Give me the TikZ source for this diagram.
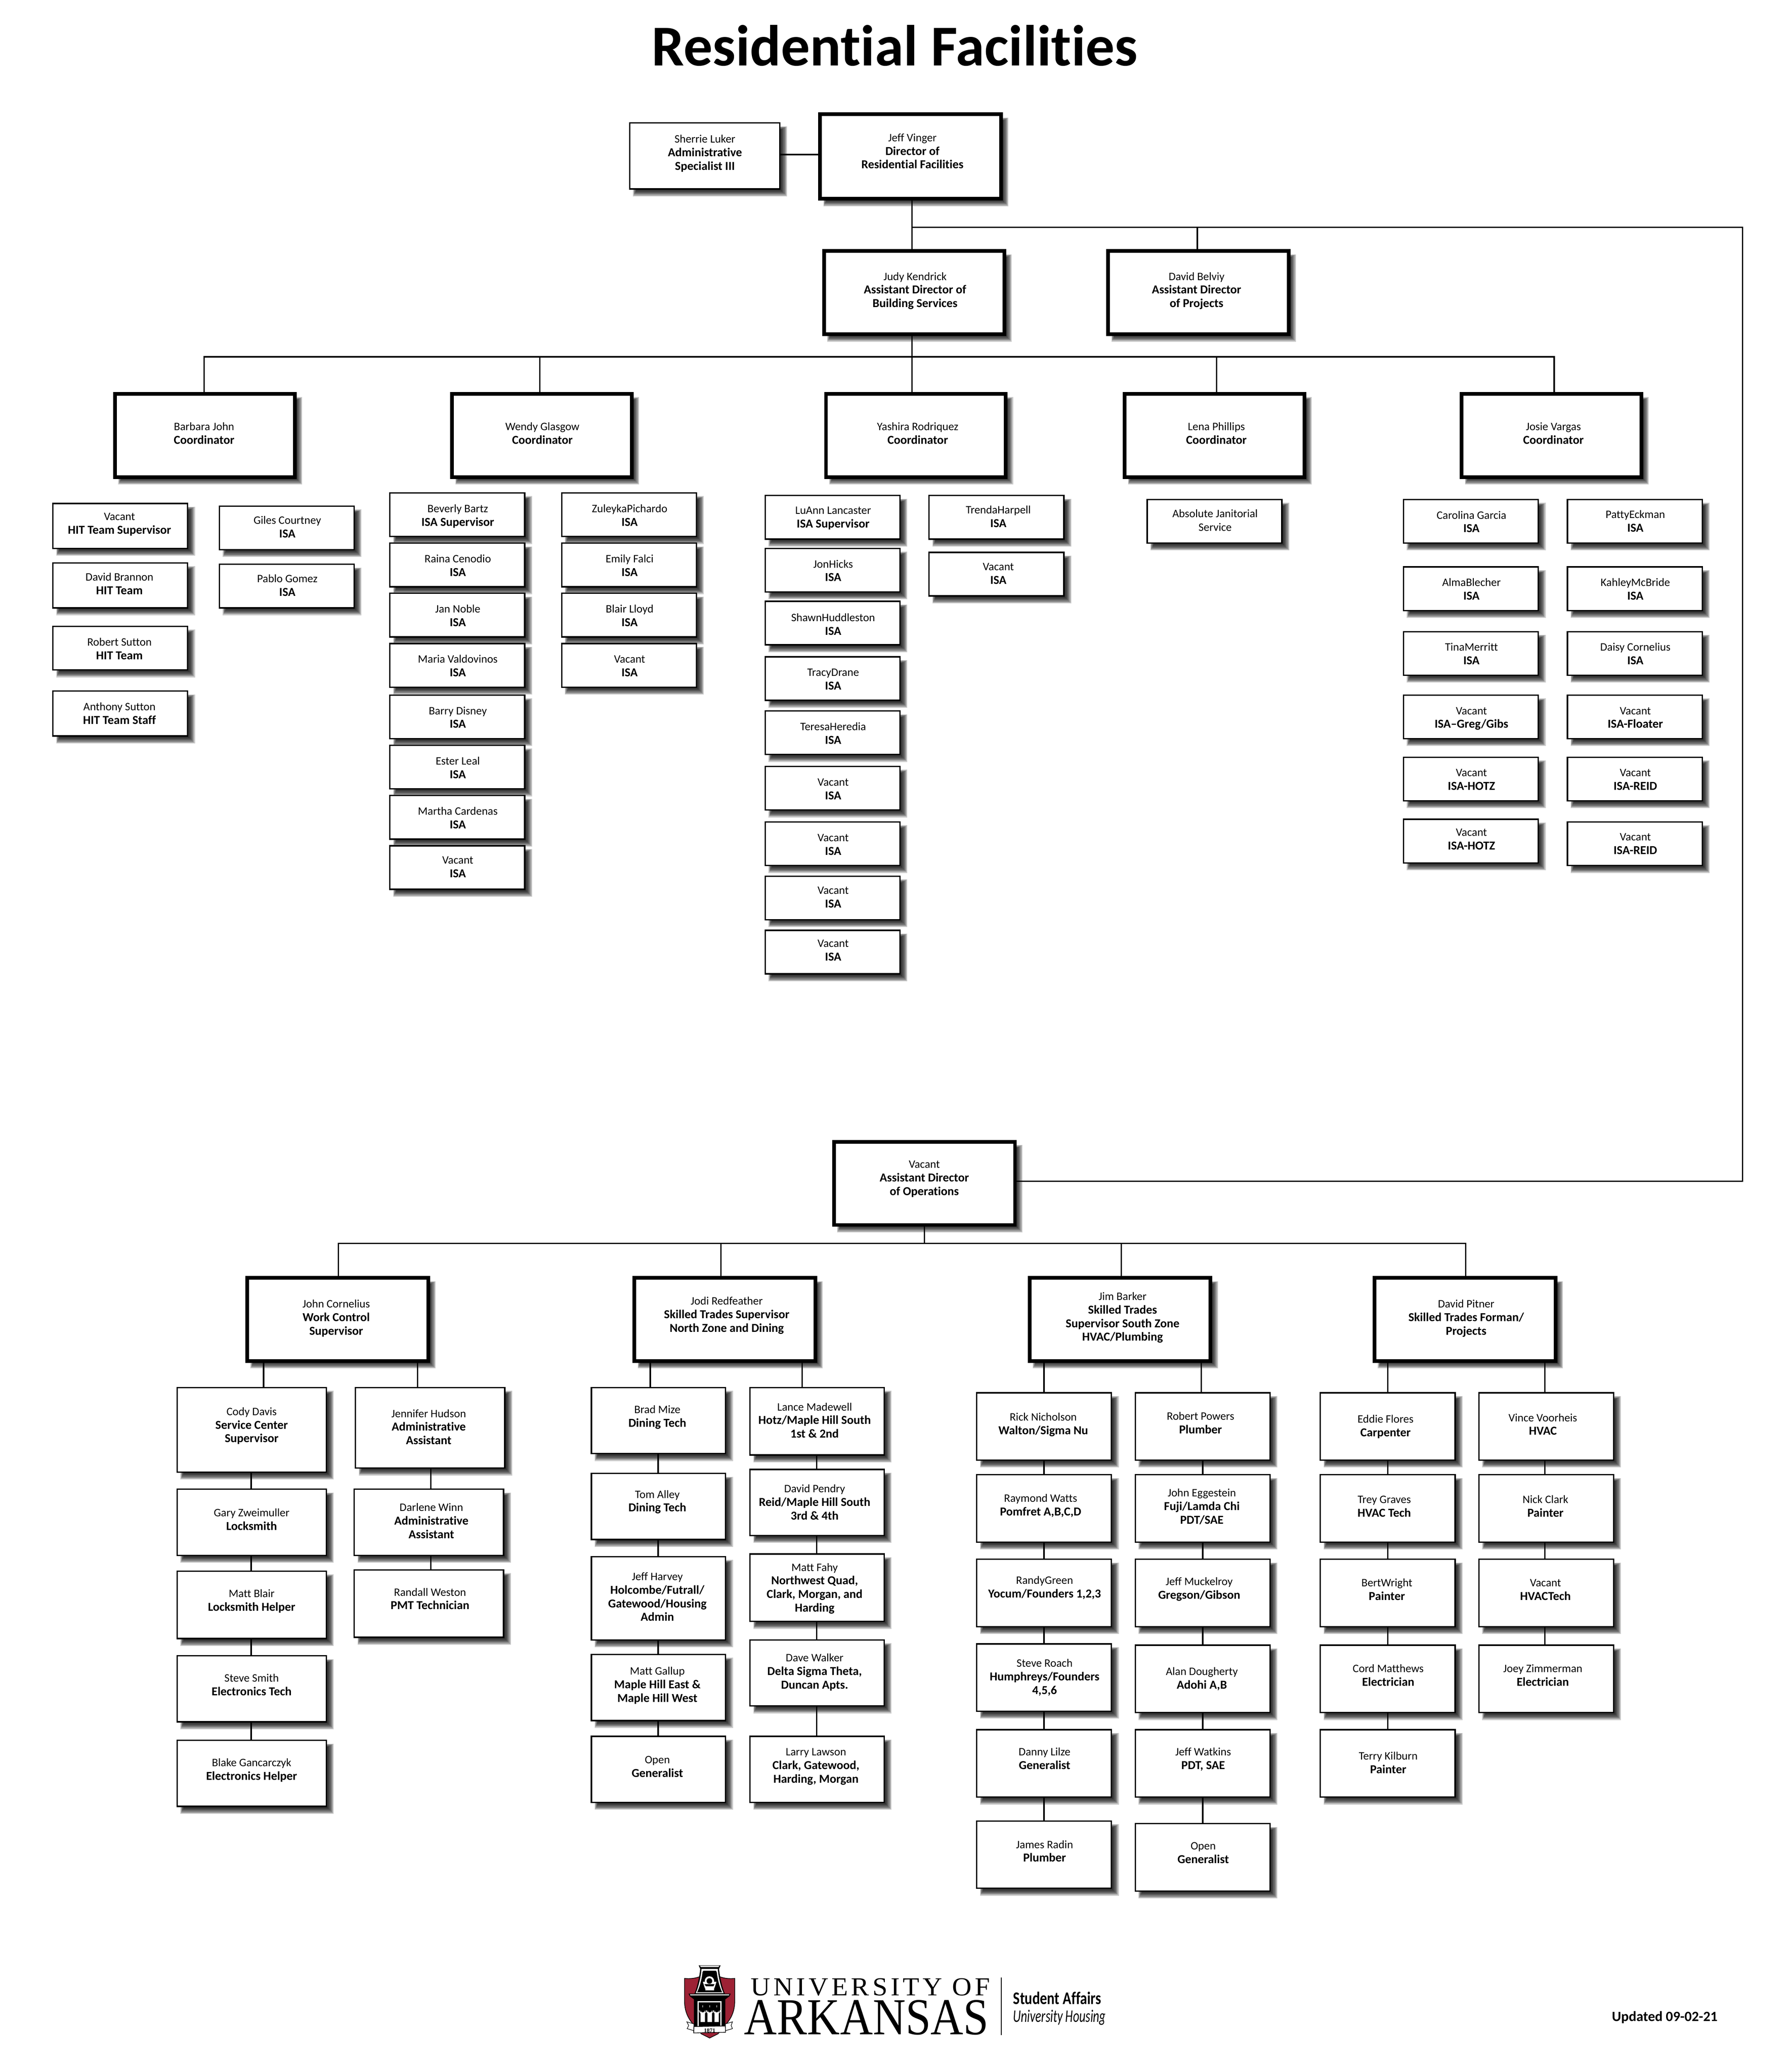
\documentclass[tikz,border=0pt]{standalone}
\usepackage{fontspec}
\setmainfont{Carlito}[Ligatures=NoCommon]
\newfontfamily\serifl{Liberation Serif}
\usetikzlibrary{calc}
\definecolor{uared}{RGB}{157,34,53}
\tikzset{
  x=1pt,y=-1pt,
  thinbox/.style={draw=black,fill=white,line width=1.05pt,rectangle,inner sep=0pt},
  thickbox/.style={draw=black,fill=white,line width=2.8pt,rectangle,inner sep=0pt},
  conn/.style={draw=black,line width=1.05pt},
}
% soft shadow
\newcommand{\softshadow}[4]{%
  \foreach \g in {0,1,2,3,4,5,6}{%
    \fill[black,fill opacity=.2] (#1+2.5+.4*\g,#2+2.5+.4*\g) rectangle (#3+5.6-.7*\g,#4+5.6-.7*\g);
  }}
% \bx{name}{x1}{y1}{x2}{y2}{style}{text cx}{text cy}{lines}
\newcommand{\bx}[9]{%
  \softshadow{#2}{#3}{#4}{#5}%
  \pgfmathsetmacro{\mycx}{(#2+#4)/2}\pgfmathsetmacro{\mycy}{(#3+#5)/2}%
  \pgfmathsetmacro{\myw}{#4-#2}\pgfmathsetmacro{\myh}{#5-#3}%
  \pgfmathsetmacro{\mydx}{2*(#7-\mycx)+.8}\pgfmathsetmacro{\mydy}{\mycy-#8-3.0}%
  \node[#6,minimum width=\myw pt,minimum height=\myh pt] (#1) at (\mycx,\mycy)
   {\smash{\makebox[0pt]{\hspace{\mydx pt}\raisebox{\mydy pt}{\fontsize{8.6}{10.3}\selectfont\begin{tabular}[c]{@{}c@{}}#9\end{tabular}}}}};%
}
\newcommand{\smb}[8]{\bx{#1}{#2}{#3}{#4}{#5}{thinbox}{#6}{#7}{#8}}
\newcommand{\lgb}[8]{\bx{#1}{#2}{#3}{#4}{#5}{thickbox}{#6}{#7}{#8}}
\newcommand{\tb}[1]{{\fontsize{9.2}{10.3}\selectfont\bfseries #1}}
% stem between two named nodes at given x
\newcommand{\stem}[3]{\draw[conn] (#1.south -| #3,0) -- (#2.north -| #3,0);}
\begin{document}
\begin{tikzpicture}
\useasboundingbox (0,0) rectangle (1354.2,1568);
\fill[white] (0,0) rectangle (1354.2,1568);
\node[font=\fontsize{43.8}{43.8}\selectfont\bfseries] (title) at (677,34.5) {Residential Facilities};
% top
\smb{sherrie}{476.5}{93}{590}{143}{533}{115.5}{Sherrie Luker\\\tb{Administrative}\\\tb{Specialist III}}
\lgb{jeff}{620.5}{86.5}{757.5}{150.5}{690}{114.5}{Jeff Vinger\\\tb{Director of}\\\tb{Residential Facilities}}
\lgb{judy}{623.5}{190}{760}{253}{692}{219.5}{Judy Kendrick\\\tb{Assistant Director of}\\\tb{Building Services}}
\lgb{belviy}{838.5}{190}{975}{253}{905}{219.5}{David Belviy\\\tb{Assistant Director}\\\tb{of Projects}}
\lgb{barbara}{87}{298}{223}{361}{154}{328}{Barbara John\\\tb{Coordinator}}
\lgb{wendy}{342}{298}{478}{361}{410}{328}{Wendy Glasgow\\\tb{Coordinator}}
\lgb{yashira}{625}{298}{761}{361}{694}{328}{Yashira Rodriquez\\\tb{Coordinator}}
\lgb{lena}{851}{298}{987}{361}{920}{328}{Lena Phillips\\\tb{Coordinator}}
\lgb{josie}{1106}{298}{1242}{361}{1175}{328}{Josie Vargas\\\tb{Coordinator}}
% Barbara
\smb{b1}{40}{381}{142}{415}{90}{396}{Vacant\\\tb{HIT Team Supervisor}}
\smb{b2}{40}{426}{142}{460}{90}{442}{David Brannon\\\tb{HIT Team}}
\smb{b3}{40}{474}{142}{507}{90}{491}{Robert Sutton\\\tb{HIT Team}}
\smb{b4}{40}{523}{142}{557}{90}{540}{Anthony Sutton\\\tb{HIT Team Staff}}
\smb{b5}{166}{383}{268}{416}{217}{399}{Giles Courtney\\\tb{ISA}}
\smb{b6}{166}{427}{268}{460}{217}{443}{Pablo Gomez\\\tb{ISA}}
% Wendy
\smb{w1}{295}{373}{397}{406}{346}{390}{Beverly Bartz\\\tb{ISA Supervisor}}
\smb{w2}{295}{411}{397}{444}{346}{428}{Raina Cenodio\\\tb{ISA}}
\smb{w3}{295}{449}{397}{482}{346}{466}{Jan Noble\\\tb{ISA}}
\smb{w4}{295}{487}{397}{520}{346}{504}{Maria Valdovinos\\\tb{ISA}}
\smb{w5}{295}{526}{397}{559}{346}{543}{Barry Disney\\\tb{ISA}}
\smb{w6}{295}{564}{397}{597}{346}{581}{Ester Leal\\\tb{ISA}}
\smb{w7}{295}{602}{397}{635}{346}{619}{Martha Cardenas\\\tb{ISA}}
\smb{w8}{295}{640}{397}{673}{346}{656}{Vacant\\\tb{ISA}}
\smb{w9}{425}{373}{527}{406}{476}{390}{ZuleykaPichardo\\\tb{ISA}}
\smb{w10}{425}{411}{527}{444}{476}{428}{Emily Falci\\\tb{ISA}}
\smb{w11}{425}{449}{527}{482}{476}{466}{Blair Lloyd\\\tb{ISA}}
\smb{w12}{425}{487}{527}{520}{476}{504}{Vacant\\\tb{ISA}}
% Yashira
\smb{y1}{579}{375}{681}{408}{630}{391.5}{LuAnn Lancaster\\\tb{ISA Supervisor}}
\smb{y2}{579}{415}{681}{448}{630}{432}{JonHicks\\\tb{ISA}}
\smb{y3}{579}{455}{681}{488}{630}{472.5}{ShawnHuddleston\\\tb{ISA}}
\smb{y4}{579}{497}{681}{530}{630}{514}{TracyDrane\\\tb{ISA}}
\smb{y5}{579}{538}{681}{571}{630}{555}{TeresaHeredia\\\tb{ISA}}
\smb{y6}{579}{580}{681}{613}{630}{597}{Vacant\\\tb{ISA}}
\smb{y7}{579}{622}{681}{655}{630}{639}{Vacant\\\tb{ISA}}
\smb{y8}{579}{663}{681}{696}{630}{679}{Vacant\\\tb{ISA}}
\smb{y9}{579}{704}{681}{737}{630}{719}{Vacant\\\tb{ISA}}
\smb{y10}{703}{375}{805}{408}{755}{391}{TrendaHarpell\\\tb{ISA}}
\smb{y11}{703}{418}{805}{451}{755}{434}{Vacant\\\tb{ISA}}
% Lena
\smb{l1}{868}{378}{970}{411}{919}{394}{Absolute Janitorial\\Service}
% Josie
\smb{j1}{1062}{378}{1164}{411}{1113}{395}{Carolina Garcia\\\tb{ISA}}
\smb{j2}{1062}{429}{1164}{462}{1113}{446}{AlmaBlecher\\\tb{ISA}}
\smb{j3}{1062}{478}{1164}{511}{1113}{495}{TinaMerritt\\\tb{ISA}}
\smb{j4}{1062}{526}{1164}{559}{1113}{543}{Vacant\\\tb{ISA–Greg/Gibs}}
\smb{j5}{1062}{573}{1164}{606}{1113}{590}{Vacant\\\tb{ISA-HOTZ}}
\smb{j6}{1062}{620}{1164}{653}{1113}{635}{Vacant\\\tb{ISA-HOTZ}}
\smb{j7}{1186}{378}{1288}{411}{1237}{394.5}{PattyEckman\\\tb{ISA}}
\smb{j8}{1186}{429}{1288}{462}{1237}{446}{KahleyMcBride\\\tb{ISA}}
\smb{j9}{1186}{478}{1288}{511}{1237}{495}{Daisy Cornelius\\\tb{ISA}}
\smb{j10}{1186}{526}{1288}{559}{1237}{543}{Vacant\\\tb{ISA-Floater}}
\smb{j11}{1186}{573}{1288}{606}{1237}{590}{Vacant\\\tb{ISA-REID}}
\smb{j12}{1186}{622}{1288}{655}{1237}{638.5}{Vacant\\\tb{ISA-REID}}
% Operations
\lgb{ops}{631}{864}{768}{927}{699}{891.5}{Vacant\\\tb{Assistant Director}\\\tb{of Operations}}
\lgb{john}{187}{967}{324}{1030}{254}{997}{John Cornelius\\\tb{Work Control}\\\tb{Supervisor}}
\lgb{jodi}{480}{967}{617}{1030}{549.5}{995}{Jodi Redfeather\\\tb{Skilled Trades Supervisor}\\\tb{North Zone and Dining}}
\lgb{jim}{779}{967}{916}{1030}{849}{996.5}{Jim Barker\\\tb{Skilled Trades}\\\tb{Supervisor South Zone}\\\tb{HVAC/Plumbing}}
\lgb{pitner}{1040}{967}{1177}{1030}{1109}{997}{David Pitner\\\tb{Skilled Trades Forman/}\\\tb{Projects}}
% John
\smb{c1}{134}{1050}{247}{1114}{190}{1078.5}{Cody Davis\\\tb{Service Center}\\\tb{Supervisor}}
\smb{c2}{134}{1127}{247}{1177}{190}{1150}{Gary Zweimuller\\\tb{Locksmith}}
\smb{c3}{134}{1189}{247}{1240}{190}{1211}{Matt Blair\\\tb{Locksmith Helper}}
\smb{c4}{134}{1253}{247}{1303}{190}{1275}{Steve Smith\\\tb{Electronics Tech}}
\smb{c5}{134}{1317}{247}{1367}{190}{1339}{Blake Gancarczyk\\\tb{Electronics Helper}}
\smb{c6}{269}{1050}{382}{1111}{324}{1080}{Jennifer Hudson\\\tb{Administrative}\\\tb{Assistant}}
\smb{c7}{268}{1127}{381}{1177}{326}{1151}{Darlene Winn\\\tb{Administrative}\\\tb{Assistant}}
\smb{c8}{268}{1188}{381}{1239}{325}{1210}{Randall Weston\\\tb{PMT Technician}}
% Jodi
\smb{d1}{447.5}{1050}{549}{1100}{497}{1072}{Brad Mize\\\tb{Dining Tech}}
\smb{d2}{447.5}{1115}{549}{1165}{497}{1136}{Tom Alley\\\tb{Dining Tech}}
\smb{d3}{447.5}{1178}{549}{1241}{497}{1208.5}{Jeff Harvey\\\tb{Holcombe/Futrall/}\\\tb{Gatewood/Housing}\\\tb{Admin}}
\smb{d4}{447.5}{1252}{549}{1302}{497}{1275}{Matt Gallup\\\tb{Maple Hill East \&}\\\tb{Maple Hill West}}
\smb{d5}{447.5}{1314}{549}{1364}{497}{1337}{Open\\\tb{Generalist}}
\smb{d6}{567.5}{1050}{669}{1101}{616}{1075}{Lance Madewell\\\tb{Hotz/Maple Hill South}\\\tb{1st \& 2nd}}
\smb{d7}{567.5}{1112}{669}{1162}{616}{1137}{David Pendry\\\tb{Reid/Maple Hill South}\\\tb{3rd \& 4th}}
\smb{d8}{567.5}{1176}{669}{1227}{616}{1201.5}{Matt Fahy\\\tb{Northwest Quad,}\\\tb{Clark, Morgan, and}\\\tb{Harding}}
\smb{d9}{567.5}{1241}{669}{1291}{616}{1265}{Dave Walker\\\tb{Delta Sigma Theta,}\\\tb{Duncan Apts.}}
\smb{d10}{567.5}{1314}{669}{1364}{617}{1336}{Larry Lawson\\\tb{Clark, Gatewood,}\\\tb{Harding, Morgan}}
% Jim
\smb{r1}{739}{1054}{841}{1105}{789}{1077.5}{Rick Nicholson\\\tb{Walton/Sigma Nu}}
\smb{r2}{739}{1116}{841}{1167}{787}{1139}{Raymond Watts\\\tb{Pomfret A,B,C,D}}
\smb{r3}{739}{1180}{841}{1231}{790}{1201}{RandyGreen\\\tb{Yocum/Founders 1,2,3}}
\smb{r4}{739}{1244}{841}{1295}{790}{1269}{Steve Roach\\\tb{Humphreys/Founders}\\\tb{4,5,6}}
\smb{r5}{739}{1309}{841}{1360}{790}{1331}{Danny Lilze\\\tb{Generalist}}
\smb{r6}{739}{1378}{841}{1429}{790}{1401}{James Radin\\\tb{Plumber}}
\smb{r7}{859}{1054}{961}{1105}{908}{1077}{Robert Powers\\\tb{Plumber}}
\smb{r8}{859}{1116}{961}{1167}{909}{1140}{John Eggestein\\\tb{Fuji/Lamda Chi}\\\tb{PDT/SAE}}
\smb{r9}{859}{1180}{961}{1231}{907}{1202}{Jeff Muckelroy\\\tb{Gregson/Gibson}}
\smb{r10}{859}{1245}{961}{1296}{909}{1270}{Alan Dougherty\\\tb{Adohi A,B}}
\smb{r11}{859}{1309}{961}{1360}{910}{1331}{Jeff Watkins\\\tb{PDT, SAE}}
\smb{r12}{859}{1380}{961}{1431}{910}{1402}{Open\\\tb{Generalist}}
% Pitner
\smb{p1}{999}{1054}{1101}{1105}{1048}{1079}{Eddie Flores\\\tb{Carpenter}}
\smb{p2}{999}{1116}{1101}{1167}{1047}{1140}{Trey Graves\\\tb{HVAC Tech}}
\smb{p3}{999}{1180}{1101}{1231}{1049}{1203}{BertWright\\\tb{Painter}}
\smb{p4}{999}{1245}{1101}{1296}{1050}{1268}{Cord Matthews\\\tb{Electrician}}
\smb{p5}{999}{1309}{1101}{1360}{1050}{1334}{Terry Kilburn\\\tb{Painter}}
\smb{p6}{1119}{1054}{1221}{1105}{1167}{1078}{Vince Voorheis\\\tb{HVAC}}
\smb{p7}{1119}{1116}{1221}{1167}{1169}{1140}{Nick Clark\\\tb{Painter}}
\smb{p8}{1119}{1180}{1221}{1231}{1169}{1203}{Vacant\\\tb{HVACTech}}
\smb{p9}{1119}{1245}{1221}{1296}{1167}{1268}{Joey Zimmerman\\\tb{Electrician}}
% connectors
\draw[conn] (sherrie.east |- 0,117) -- (jeff.west |- 0,117);
\stem{jeff}{judy}{690}
\coordinate (hA) at (690,172);
\draw[conn] (hA) -| (belviy.north -| 906,0);
\coordinate (hB) at (1318.5,172);
\coordinate (hE) at (ops.east |- 0,894);
\draw[conn] (hA) -- (hB) -- (hB |- hE) -- (hE);
\stem{judy}{yashira}{690}
\coordinate (hC) at (690,270);
\foreach \n/\xx in {barbara/154.5,wendy/408.5,lena/920.5,josie/1176}{
  \draw[conn] (hC) -| (\n.north -| \xx,0);
}
\coordinate (hD) at (699.5,941);
\draw[conn] (ops.south) -- (hD);
\foreach \n/\xx in {john/256,jodi/545.5,jim/848.5,pitner/1109}{
  \draw[conn] (hD) -| (\n.north -| \xx,0);
}
\stem{john}{c1}{199.5}\stem{john}{c6}{316}
\stem{c1}{c2}{190}\stem{c2}{c3}{190}\stem{c3}{c4}{190}\stem{c4}{c5}{190}
\stem{c6}{c7}{326}\stem{c7}{c8}{326}
\stem{jodi}{d1}{492}\stem{jodi}{d6}{607}
\stem{d1}{d2}{498}\stem{d2}{d3}{498}\stem{d3}{d4}{498}\stem{d4}{d5}{498}
\stem{d6}{d7}{618}\stem{d7}{d8}{618}\stem{d8}{d9}{618}\stem{d9}{d10}{618}
\stem{jim}{r1}{790}\stem{jim}{r7}{909}
\stem{r1}{r2}{790}\stem{r2}{r3}{790}\stem{r3}{r4}{790}\stem{r4}{r5}{790}\stem{r5}{r6}{790}
\stem{r7}{r8}{910}\stem{r8}{r9}{910}\stem{r9}{r10}{910}\stem{r10}{r11}{910}\stem{r11}{r12}{910}
\stem{pitner}{p1}{1050}\stem{pitner}{p6}{1169}
\stem{p1}{p2}{1050}\stem{p2}{p3}{1050}\stem{p3}{p4}{1050}\stem{p4}{p5}{1050}
\stem{p6}{p7}{1169}\stem{p7}{p8}{1169}\stem{p8}{p9}{1169}
% logo crest, traced
\begin{scope}[shift={(513.2,1482.5)},scale=0.0792]
 \fill[uared,draw=black,line width=.5pt] (60,185) .. controls (110,190) and (160,185) .. (200,170) -- (400,170) .. controls (440,185) and (490,190) .. (540,185) -- (540,400) .. controls (540,530) and (480,600) .. (440,640) -- (380,715) -- (300,755) -- (220,715) -- (160,640) .. controls (120,600) and (60,530) .. (60,400) -- cycle;
 \fill[black] (195,60) -- (405,60) -- (390,95) .. controls (395,150) and (415,260) .. (445,330) -- (155,330) .. controls (185,260) and (205,150) .. (210,95) -- cycle;
 \fill[white] (208,64) -- (392,64) -- (385,76) -- (215,76) -- cycle;
 \fill[white] (222,95) -- (378,95) .. controls (380,150) and (405,270) .. (433,326) -- (167,326) .. controls (195,270) and (220,150) .. (222,95) -- cycle;
 \fill[black] (240,112) -- (360,112) -- (368,125) .. controls (375,190) and (395,270) .. (420,318) -- (180,318) .. controls (205,270) and (225,190) .. (232,125) -- cycle;
 \fill[white] (298,210) circle (45);
 \fill[white] (235,218) -- (365,218) -- (350,265) -- (342,285) -- (258,285) -- (250,265) -- cycle;
 \fill[black] (298,210) circle (27);
 \fill[black] (250,240) -- (346,240) -- (336,260) -- (265,260) -- cycle;
 \fill[white] (258,285) rectangle (342,298);
 \fill[black] (98,330) -- (502,330) -- (490,355) -- (450,385) -- (450,650) -- (150,650) -- (150,385) -- (110,355) -- cycle;
 \fill[white] (112,337) -- (488,337) -- (484,347) -- (116,347) -- cycle;
 \fill[white] (185,403) rectangle (415,645);
 \fill[black] (197,415) rectangle (403,645);
 \foreach \a/\b in {213/255,280/322,347/388}{
   \pgfmathsetmacro{\mid}{(\a+\b)/2}
   \fill[white] (\a,602) -- (\a,490) arc (180:0:{(\b-\a)/2}) -- (\b,602) -- cycle;
   \draw[white,line width=.45pt] (\a-12,490) arc (180:0:{(\b-\a)/2+12});
   \fill[white] (\mid-2.5,440) rectangle (\mid+2.5,460);
 }
 \fill[white] (187,490) rectangle (197,635);
 \fill[white,draw=black,line width=.4pt] (150,620) -- (82,600) -- (100,635) -- (85,665) -- (150,685) -- cycle;
 \fill[white,draw=black,line width=.4pt] (450,620) -- (518,600) -- (505,635) -- (518,665) -- (450,685) -- cycle;
 \fill[white,draw=black,line width=.5pt] (150,645) -- (450,640) -- (452,700) -- (148,706) -- cycle;
 \node[inner sep=0,font=\serifl\bfseries\fontsize{4.3}{4.3}\selectfont] (yr) at (300,684) {1871};
\end{scope}
\node[inner sep=0,anchor=base west] (uni) at (568,1510) {\resizebox{181pt}{13pt}{\serifl\addfontfeature{LetterSpace=12}UNIVERSITY OF}};
\node[inner sep=0,anchor=base west] (ark) at (563,1539.5) {\resizebox{185pt}{26pt}{\serifl ARKANSAS}};
\draw[line width=.5pt] (757.6,1496.5) -- (757.6,1540);
\node[inner sep=0,anchor=base west] (sa) at (766.5,1516.6) {\resizebox{66.5pt}{9.4pt}{\bfseries Student Affairs}};
\node[inner sep=0,anchor=base west] (uh) at (766.5,1530.3) {\resizebox{70pt}{9.2pt}{\itshape University Housing}};
\node[inner sep=0,anchor=base west,font=\fontsize{10.7}{10.7}\selectfont\bfseries] (upd) at (1219.5,1529.5) {Updated 09-02-21};
\end{tikzpicture}
\end{document}
